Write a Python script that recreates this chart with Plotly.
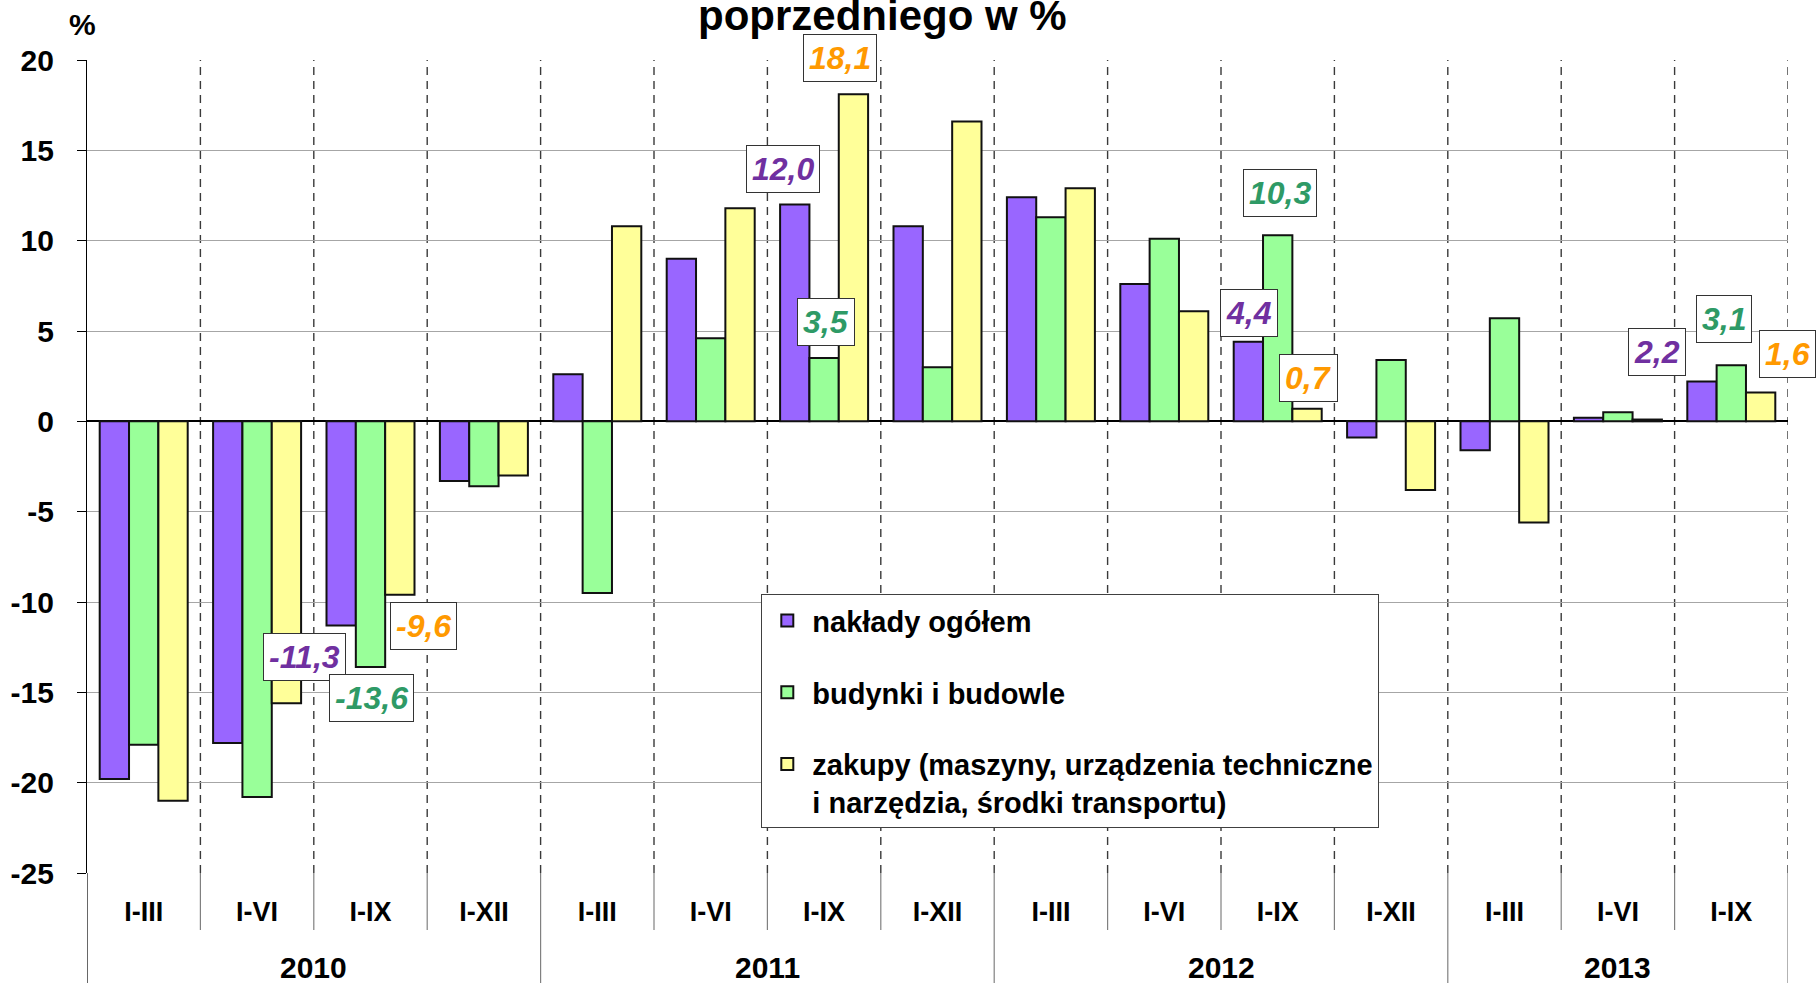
import plotly.graph_objects as go

# ---------------- data ----------------
periods = ["I-III", "I-VI", "I-IX", "I-XII",
           "I-III", "I-VI", "I-IX", "I-XII",
           "I-III", "I-VI", "I-IX", "I-XII",
           "I-III", "I-VI", "I-IX"]
years = ["2010", "2011", "2012", "2013"]
year_sizes = [4, 4, 4, 3]

naklady = [-19.8, -17.8, -11.3, -3.3, 2.6, 9.0, 12.0, 10.8, 12.4, 7.6, 4.4, -0.9, -1.6, 0.2, 2.2]
budynki = [-17.9, -20.8, -13.6, -3.6, -9.5, 4.6, 3.5, 3.0, 11.3, 10.1, 10.3, 3.4, 5.7, 0.5, 3.1]
zakupy = [-21.0, -15.6, -9.6, -3.0, 10.8, 11.8, 18.1, 16.6, 12.9, 6.1, 0.7, -3.8, -5.6, 0.1, 1.6]

series_names = ["nakłady ogółem",
                "budynki i budowle",
                "zakupy (maszyny, urządzenia techniczne<br>i narzędzia, środki transportu)"]
y_ticks = [20, 15, 10, 5, 0, -5, -10, -15, -20, -25]

# which bars carry a value label: (series index, period index)
labelled = [(0, 2), (1, 2), (2, 2), (0, 6), (1, 6), (2, 6),
            (0, 10), (1, 10), (2, 10), (0, 14), (1, 14), (2, 14)]

# ---------------- style ----------------
FONT = "Liberation Sans, Arial, sans-serif"
bar_colors = ["#9966FF", "#99FF99", "#FFFF99"]
label_colors = ["#7030A0", "#2E9A66", "#FF9900"]
# pixel offsets of the label boxes relative to the bar end
label_shift = {
    (0, 2): (-37, -32), (1, 2): (1, -31), (2, 2): (24, -31),
    (0, 6): (-12, 36), (1, 6): (2, 36), (2, 6): (-13, 36),
    (0, 10): (1, 29), (1, 10): (2, 42), (2, 10): (1, 31),
    (0, 14): (-45, 30), (1, 14): (-7, 46), (2, 14): (27, 38),
}

W, H = 1816, 983
ML, MR, MT, MB = 86.5, 28, 59.5, 110
plot_h = H - MT - MB
plot_w = W - ML - MR
BARGAP = 0.224

values = [naklady, budynki, zakupy]
x = list(range(len(periods)))

fig = go.Figure()
for s, (name, vals) in enumerate(zip(series_names, values)):
    fig.add_trace(go.Bar(
        x=x, y=vals, name=name, legendgroup=f"g{s}",
        marker=dict(color=bar_colors[s], line=dict(color="#111111", width=2)),
        hoverinfo="skip",
    ))

# value labels
w = (1 - BARGAP) / 3
annotations = []
for s, i in labelled:
    v = values[s][i]
    dx, dy = label_shift[(s, i)]
    annotations.append(dict(
        x=i + (s - 1) * w, y=v, xref="x", yref="y",
        text=f"{v:.1f}".replace(".", ","), showarrow=False,
        xshift=dx, yshift=dy,
        font=dict(family=FONT, size=32, color=label_colors[s], weight="bold", style="italic"),
        bgcolor="white", bordercolor="#333333", borderwidth=1, borderpad=5,
    ))

# year labels
start = 0
for yr, n in zip(years, year_sizes):
    annotations.append(dict(
        x=start + (n - 1) / 2, y=-(968 - (H - MB)) / plot_h, xref="x", yref="paper",
        text=yr, showarrow=False, yanchor="middle",
        font=dict(family=FONT, size=30, color="black", weight="bold"),
    ))
    start += n

# title fragment and unit
annotations.append(dict(
    x=(882.5 - ML) / plot_w, y=((H - MB) - 15) / plot_h, xref="paper", yref="paper",
    text="poprzedniego w %", showarrow=False, xanchor="center", yanchor="middle",
    font=dict(family=FONT, size=42, color="black", weight="bold"),
))
annotations.append(dict(
    x=(82 - ML) / plot_w, y=((H - MB) - 24) / plot_h, xref="paper", yref="paper",
    text="%", showarrow=False, xanchor="center", yanchor="middle",
    font=dict(family=FONT, size=30, color="black", weight="bold"),
))

# separators
shapes = []
n = len(periods)
year_bounds = set()
acc = 0
for k in year_sizes:
    year_bounds.add(acc)
    acc += k
year_bounds.add(acc)
bottom_full = -MB / plot_h
bottom_short = -(930 - (H - MB)) / plot_h
for b in range(n + 1):
    xb = b - 0.5
    if b > 0:
        shapes.append(dict(type="line", xref="x", yref="y", x0=xb, x1=xb, y0=-25, y1=20,
                           line=dict(color="#3a3a3a", width=1.4, dash="8px,6px"), layer="below"))
    shapes.append(dict(type="line", xref="x", yref="paper", x0=xb, x1=xb, y0=0,
                       y1=bottom_full if b in year_bounds else bottom_short,
                       line=dict(color="#808080" if b > 0 else "black", width=1.2)))

fig.update_layout(
    width=W, height=H,
    margin=dict(l=ML, r=MR, t=MT, b=MB, pad=0),
    paper_bgcolor="white", plot_bgcolor="white",
    barmode="group", bargap=BARGAP, bargroupgap=0,
    font=dict(family=FONT, color="black"),
    annotations=annotations, shapes=shapes,
    showlegend=True,
    legend=dict(
        x=(761 - ML) / plot_w, y=((H - MB) - 594) / plot_h,
        xanchor="left", yanchor="top",
        bgcolor="white", bordercolor="#404040", borderwidth=1,
        font=dict(family=FONT, size=29, color="black", weight="bold"),
        traceorder="grouped", tracegroupgap=31, valign="top", itemwidth=40,
        entrywidth=705, entrywidthmode="pixels",
    ),
    xaxis=dict(
        range=[-0.5, n - 0.5], tickvals=x, ticktext=periods,
        showgrid=False, zeroline=False, showline=False, ticks="",
        tickfont=dict(family=FONT, size=27, color="black", weight="bold"),
        ticklabelstandoff=20,
    ),
    yaxis=dict(
        range=[-25, 20], tickvals=y_ticks, ticktext=[str(t) for t in y_ticks],
        showgrid=True, gridcolor="#A6A6A6", gridwidth=1.2,
        zeroline=True, zerolinecolor="black", zerolinewidth=1.5,
        showline=True, linecolor="black", linewidth=1.2,
        ticks="outside", ticklen=9, tickcolor="black", tickwidth=1.2,
        tickfont=dict(family=FONT, size=30, color="black", weight="bold"),
        ticklabelstandoff=17,
    ),
)

fig.write_html("out.html", config={"displayModeBar": False},
               post_script="document.body.style.margin='0';document.body.style.overflow='hidden';")
